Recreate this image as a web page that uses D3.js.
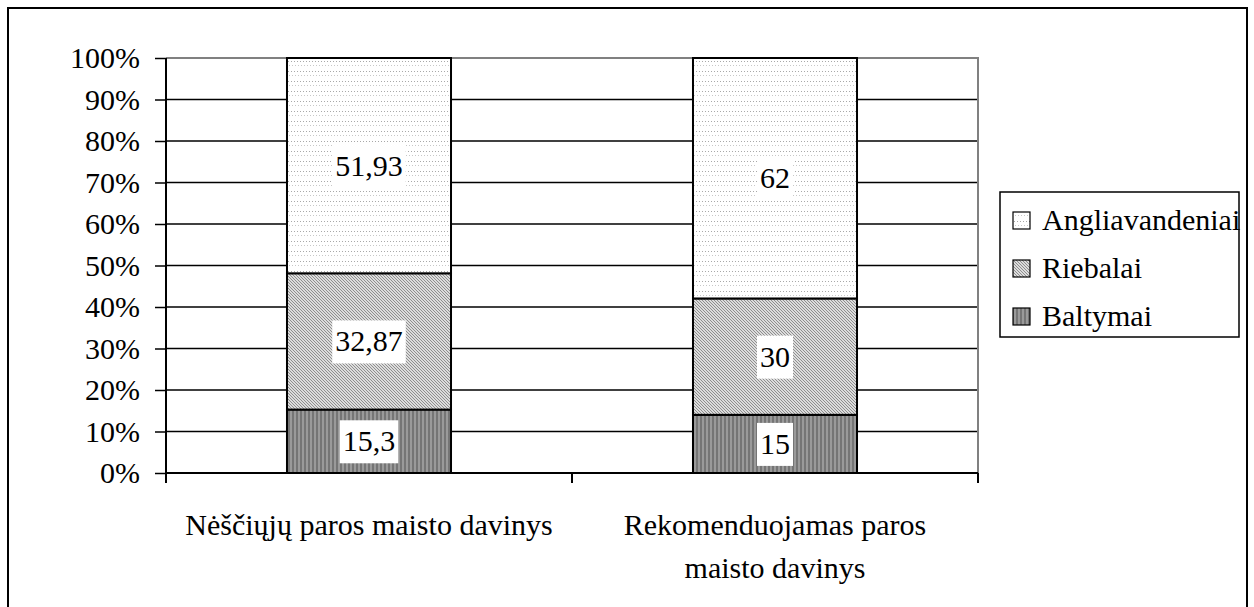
<!DOCTYPE html>
<html>
<head>
<meta charset="utf-8">
<script src="https://cdn.jsdelivr.net/npm/d3@7"></script>
<style>
  html, body { margin: 0; padding: 0; background: #fff; }
  svg { display: block; }
  svg text { font-family: "Liberation Serif", "Times New Roman", Times, "DejaVu Serif", serif; }
</style>
</head>
<body>
<svg id="chart" width="1254" height="607"></svg>
<script>
// Daily ration structure: proteins, fats, carbohydrates (100% stacked)
const categories = [
  ["Nėščiųjų paros maisto davinys"],
  ["Rekomenduojamas paros", "maisto davinys"]
];
const seriesNames = ["Baltymai", "Riebalai", "Angliavandeniai"];
const baltymai = [15.3, 15];
const riebalai = [32.87, 30];
const angliavandeniai = [51.93, 62];
const valueLabels = [["15,3", "32,87", "51,93"], ["15", "30", "62"]];
const yTicks = [0, 0.1, 0.2, 0.3, 0.4, 0.5, 0.6, 0.7, 0.8, 0.9, 1.0];

const FONT = '"Liberation Serif", "Times New Roman", Times, "DejaVu Serif", serif';

const rows = categories.map((c, i) => ({
  key: i,
  Baltymai: baltymai[i],
  Riebalai: riebalai[i],
  Angliavandeniai: angliavandeniai[i]
}));

const svg = d3.select("#chart").attr("font-family", FONT);
const plot = { left: 166, right: 978, top: 58, bottom: 473 };

// Fill patterns
const defs = svg.append("defs");
const pB = defs.append("pattern").attr("id", "pat-b").attr("patternUnits", "userSpaceOnUse")
  .attr("width", 4).attr("height", 4);
pB.append("rect").attr("width", 4).attr("height", 4).attr("fill", "#9a9a9a");
pB.append("rect").attr("width", 2).attr("height", 4).attr("fill", "#757575");

const pR = defs.append("pattern").attr("id", "pat-r").attr("patternUnits", "userSpaceOnUse")
  .attr("width", 3).attr("height", 3);
pR.append("rect").attr("width", 3).attr("height", 3).attr("fill", "#dcdcdc");
pR.append("rect").attr("x", 0).attr("y", 0).attr("width", 1).attr("height", 1).attr("fill", "#8e8e8e");
pR.append("rect").attr("x", 1).attr("y", 1).attr("width", 1).attr("height", 1).attr("fill", "#8e8e8e");
pR.append("rect").attr("x", 2).attr("y", 2).attr("width", 1).attr("height", 1).attr("fill", "#8e8e8e");

const pA = defs.append("pattern").attr("id", "pat-a").attr("patternUnits", "userSpaceOnUse")
  .attr("width", 6).attr("height", 10);
pA.append("rect").attr("width", 6).attr("height", 10).attr("fill", "#ffffff");
[[0, 1], [3, 1]].forEach(([x, y]) => pA.append("rect").attr("x", x).attr("y", y)
  .attr("width", 1).attr("height", 1).attr("fill", "#a8a8a8"));
[[1, 5], [4, 5]].forEach(([x, y]) => pA.append("rect").attr("x", x).attr("y", y)
  .attr("width", 1).attr("height", 1).attr("fill", "#c8c8c8"));

const fills = { Baltymai: "url(#pat-b)", Riebalai: "url(#pat-r)", Angliavandeniai: "url(#pat-a)" };

// Outer frame
svg.append("rect").attr("x", 8).attr("y", 8).attr("width", 1239).attr("height", 620)
  .attr("fill", "none").attr("stroke", "#000").attr("stroke-width", 2);

const x = d3.scaleBand().domain(rows.map(d => d.key))
  .range([plot.left, plot.right]).paddingInner(0.596).paddingOuter(0.298);
const y = d3.scaleLinear().domain([0, 1]).range([plot.bottom, plot.top]);

// Gridlines
svg.append("g").selectAll("line").data(yTicks.filter(t => t > 0 && t < 1)).join("line")
  .attr("x1", plot.left).attr("x2", plot.right)
  .attr("y1", d => y(d)).attr("y2", d => y(d))
  .attr("stroke", "#000").attr("stroke-width", 1.5);

// Plot area border (top and right)
svg.append("path")
  .attr("d", `M${plot.left},${y(1)}H${plot.right}V${y(0)}`)
  .attr("fill", "none").attr("stroke", "#808080").attr("stroke-width", 2);

// Stacked bars
const stack = d3.stack().keys(seriesNames).offset(d3.stackOffsetExpand);
const layers = stack(rows);

const gBars = svg.append("g");
layers.forEach(layer => {
  gBars.selectAll(null).data(layer).join("rect")
    .attr("x", d => x(d.data.key))
    .attr("width", x.bandwidth())
    .attr("y", d => y(d[1]))
    .attr("height", d => y(d[0]) - y(d[1]))
    .attr("fill", fills[layer.key])
    .attr("stroke", "#000").attr("stroke-width", 2);
});

// Y axis
const yAxis = d3.axisLeft(y).tickValues(yTicks).tickFormat(d3.format(".0%"))
  .tickSize(11).tickPadding(15);
const gy = svg.append("g").attr("transform", `translate(${plot.left},0)`).call(yAxis)
  .attr("font-family", FONT).attr("font-size", 30);
gy.select(".domain").remove();
gy.selectAll(".tick line").attr("stroke", "#000").attr("stroke-width", 1.5);
gy.selectAll(".tick text").attr("fill", "#000").style("font-family", FONT).style("font-size", "30px");
svg.append("line").attr("x1", plot.left).attr("x2", plot.left)
  .attr("y1", plot.top).attr("y2", plot.bottom + 10)
  .attr("stroke", "#000").attr("stroke-width", 2);

// X axis baseline and category boundary ticks
svg.append("line").attr("x1", plot.left).attr("x2", plot.right)
  .attr("y1", plot.bottom).attr("y2", plot.bottom)
  .attr("stroke", "#000").attr("stroke-width", 2);
const step = x.step();
const bounds = d3.range(rows.length + 1).map(i => plot.left + i * step);
svg.append("g").selectAll("line").data(bounds).join("line")
  .attr("x1", d => d).attr("x2", d => d)
  .attr("y1", plot.bottom).attr("y2", plot.bottom + 10)
  .attr("stroke", "#000").attr("stroke-width", 2);

// Category labels
categories.forEach((lines, i) => {
  const cx = x(i) + x.bandwidth() / 2;
  const t = svg.append("text").attr("text-anchor", "middle")
    .style("font-family", FONT).style("font-size", "30px").attr("fill", "#000");
  lines.forEach((ln, j) => {
    t.append("tspan").attr("x", cx).attr("y", 535 + j * 43).text(ln);
  });
});

// Value labels on white boxes
const gLab = svg.append("g");
layers.forEach((layer, si) => {
  layer.forEach((d, ci) => {
    const cx = x(d.data.key) + x.bandwidth() / 2;
    const cy = (y(d[0]) + y(d[1])) / 2;
    const txt = valueLabels[ci][si];
    const t = gLab.append("text").attr("x", cx).attr("y", cy + 10)
      .attr("text-anchor", "middle").style("font-family", FONT).style("font-size", "30px")
      .attr("fill", "#000").text(txt);
    const bb = t.node().getBBox();
    gLab.insert("rect", () => t.node())
      .attr("x", bb.x - 3).attr("y", cy - 21).attr("width", bb.width + 6).attr("height", 43)
      .attr("fill", "#fff");
  });
});

// Legend
const lg = svg.append("g");
lg.append("rect").attr("x", 1000).attr("y", 192).attr("width", 239).attr("height", 145)
  .attr("fill", "#fff").attr("stroke", "#000").attr("stroke-width", 1.5);
const legendOrder = seriesNames.slice().reverse();
legendOrder.forEach((name, i) => {
  const cy = 220 + i * 48;
  lg.append("rect").attr("x", 1013).attr("y", cy - 8).attr("width", 17).attr("height", 17)
    .attr("fill", fills[name]).attr("stroke", "#000").attr("stroke-width", 1.2);
  lg.append("text").attr("x", 1042).attr("y", cy + 10)
    .style("font-family", FONT).style("font-size", "30px")
    .attr("fill", "#000").text(name);
});
</script>
</body>
</html>
